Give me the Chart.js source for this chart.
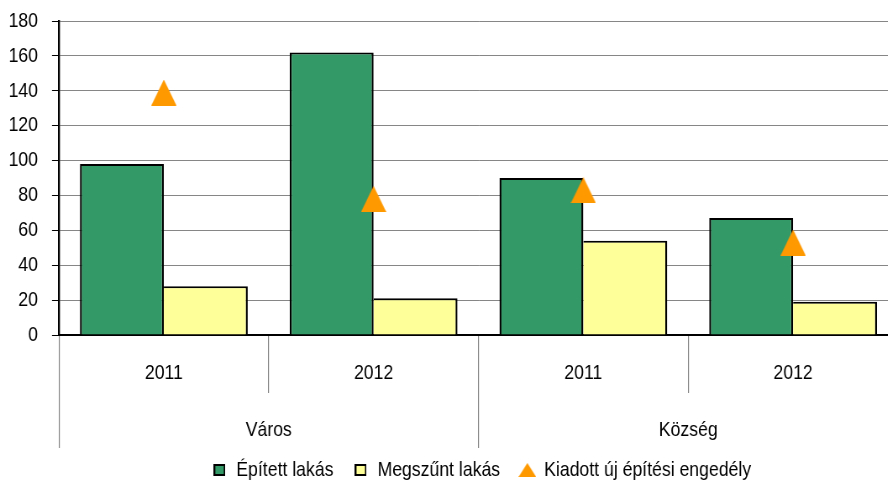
<!DOCTYPE html>
<html><head><meta charset="utf-8">
<script src="https://cdn.jsdelivr.net/npm/chart.js@4/dist/chart.umd.min.js"></script>
<style>
html,body{margin:0;padding:0;overflow:hidden;background:#fff;width:888px;height:481px}
#wrap{position:absolute;left:0;top:0;width:1146px;height:481px;transform:scaleX(0.84);transform-origin:0 0}
</style></head>
<body><div id="wrap"><canvas id="c"></canvas></div>
<script>
const categories = ['2011', '2012', '2011', '2012'];
const groups = ['Város', 'Község'];
const seriesNames = ['Épített lakás', 'Megszűnt lakás', 'Kiadott új építési engedély'];
const built = [98, 162, 90, 67];
const demolished = [28, 21, 54, 19];
const permits = [139, 78, 83, 53];
const yMin = 0, yMax = 180, yStep = 20;

const SX = 0.84; // horizontal squeeze of the whole canvas (Arial Narrow look)
const FONT = "'Liberation Sans', Arial, sans-serif";
const GREEN = '#339966', YELLOW = '#FFFF99', ORANGE = '#FF9900', GRID = '#868686', SEP = '#808080';

function triangle(w, h, color) {
  const c = document.createElement('canvas');
  c.width = w; c.height = h;
  const g = c.getContext('2d');
  g.fillStyle = color;
  g.beginPath(); g.moveTo(w / 2, 0); g.lineTo(w, h); g.lineTo(0, h); g.closePath(); g.fill();
  return c;
}
function box(w, h, color) {
  const c = document.createElement('canvas');
  c.width = w; c.height = h;
  const g = c.getContext('2d');
  g.fillStyle = '#000'; g.fillRect(0, 0, w, h);
  g.fillStyle = color; g.fillRect(2, 2, w - 4, h - 4);
  return c;
}
const bigTri = triangle(30, 26, ORANGE);
const legendImgs = [box(14, 12, GREEN), box(14, 12, YELLOW), triangle(21, 14, ORANGE)];
const vb = 2 / SX;

new Chart(document.getElementById('c'), {
  data: {
    labels: categories,
    datasets: [
      { type: 'bar', label: seriesNames[0], data: built, backgroundColor: GREEN, borderColor: '#000',
        borderWidth: { top: 2, left: vb, right: vb, bottom: 0 },
        categoryPercentage: 0.8, barPercentage: 1.0, xAxisID: 'x', yAxisID: 'y', order: 1 },
      { type: 'bar', label: seriesNames[1], data: demolished, backgroundColor: YELLOW, borderColor: '#000',
        borderWidth: { top: 2, left: 0, right: vb, bottom: 0 },
        categoryPercentage: 0.8, barPercentage: 1.0, xAxisID: 'x', yAxisID: 'y', order: 1 },
      { type: 'line', label: seriesNames[2], data: permits, showLine: false, backgroundColor: ORANGE, borderColor: ORANGE,
        borderWidth: 0, pointStyle: bigTri, pointRadius: 5, pointHoverRadius: 5, xAxisID: 'x', yAxisID: 'y', order: 0 }
    ]
  },
  options: {
    responsive: true, maintainAspectRatio: false, animation: false,
    layout: { padding: { top: 21, bottom: 0, left: 0, right: 0 } },
    plugins: {
      tooltip: { enabled: false },
      legend: {
        position: 'bottom', maxHeight: 39,
        title: { display: true, text: '', font: { size: 1, lineHeight: 1 }, padding: { top: 0, bottom: -6.5 } },
        labels: {
          usePointStyle: true, boxWidth: 19, boxHeight: 12, padding: 23, color: '#000',
          font: { family: FONT, size: 21 },
          generateLabels(chart) {
            const items = Chart.defaults.plugins.legend.labels.generateLabels(chart);
            items.forEach(it => { it.pointStyle = legendImgs[it.datasetIndex]; it.lineWidth = 0; });
            return items.sort((a, b) => a.datasetIndex - b.datasetIndex);
          }
        }
      }
    },
    scales: {
      y: {
        position: 'left', min: yMin, max: yMax,
        ticks: { stepSize: yStep, padding: 16.7, color: '#000', font: { family: FONT, size: 21, lineHeight: 0.4 } },
        grid: { color: GRID, lineWidth: 1, tickLength: 8.3, tickColor: '#000' },
        border: { display: true, color: '#000', width: vb },
        afterFit(s) { s.width = 70.2; }
      },
      yRight: {
        type: 'linear', axis: 'y', position: 'right', display: true,
        ticks: { display: false }, grid: { display: false }, border: { display: false },
        afterFit(s) { s.width = 77; }
      },
      x: {
        type: 'category', position: 'bottom', weight: 0, offset: true,
        grid: { offset: true, drawOnChartArea: false, tickLength: 58, color: SEP, lineWidth: 1 / SX },
        border: { display: true, color: '#000', width: 2 },
        ticks: { padding: -32.6, color: '#000', font: { family: FONT, size: 21 }, maxRotation: 0, autoSkip: false },
        afterFit(s) { s.height = 58; }
      },
      x2: {
        type: 'category', position: 'bottom', weight: 1, offset: true, labels: groups,
        grid: { offset: true, drawOnChartArea: false, tickLength: 55, color: SEP, lineWidth: 1 / SX },
        border: { display: false },
        ticks: { padding: -30.1, color: '#000', font: { family: FONT, size: 21 }, maxRotation: 0, autoSkip: false },
        afterFit(s) { s.height = 49; }
      }
    }
  }
});
</script>
</body></html>
